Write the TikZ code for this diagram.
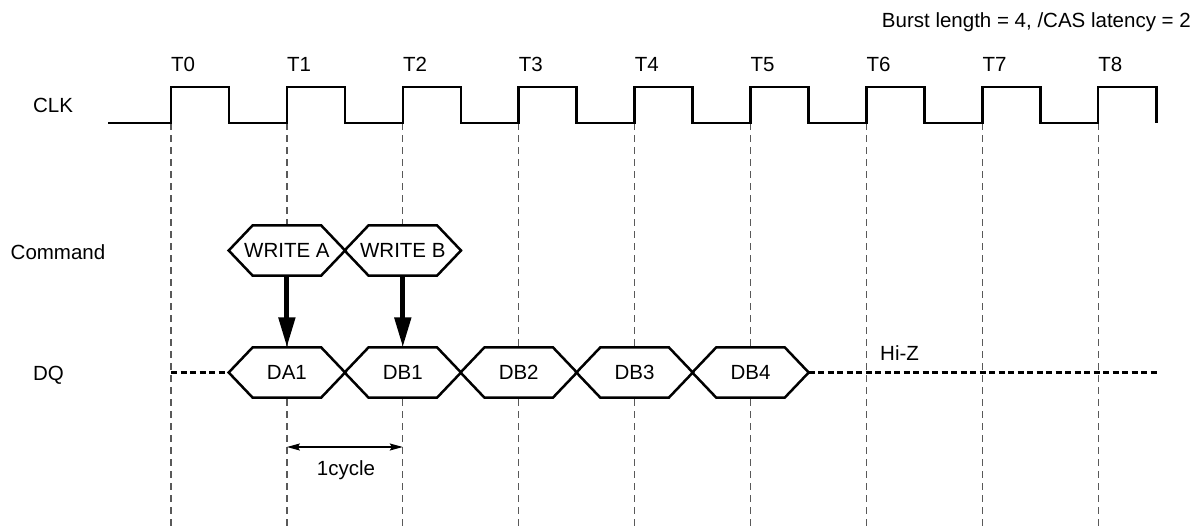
\documentclass[tikz,border=0pt]{standalone}
\usepackage{fontspec}
\setmainfont{Liberation Sans}
\usetikzlibrary{arrows.meta}
\begin{document}
\begin{tikzpicture}[x=1pt,y=-1pt,
  lbl/.style={inner sep=0pt, font=\fontsize{20.5}{24}\selectfont},
  hexbox/.style={lbl, minimum width=116pt, minimum height=50pt, fill=white},
  hexline/.style={line width=2.5pt, line join=miter},
  clk/.style={line width=2.5pt, line join=miter},
  gridline/.style={black!65, line width=1.3pt, dash pattern=on 7pt off 5pt},
  hiz/.style={line width=2.5pt, dash pattern=on 6pt off 3.5pt},
  cmdarrow/.style={line width=5pt, -{Triangle[length=30pt,width=16pt]}},
  dim/.style={line width=1.3pt, {Stealth[length=13pt,width=7pt,inset=2pt]}-{Stealth[length=13pt,width=7pt,inset=2pt]}}
]
\useasboundingbox (0,0) rectangle (1200,527);

% edges
\foreach \k in {0,...,8} {
  \coordinate (e\k) at ({171+115.9*\k},123);
  \coordinate (b\k) at ({171+115.9*\k},527);
  \draw[gridline] (e\k) -- (b\k);
  \node[lbl, anchor=base west] (t\k) at ({171+115.9*\k},72) {T\k};
}

% clock
\coordinate (clkstart) at (108,123);
\draw[clk] (clkstart)
  \foreach \k in {0,...,7} { -- (e\k) -- ++(0,-36) -- ++(57.95,0) -- ++(0,36) }
  -- (e8) -- ++(0,-36) -- ++(58.5,0) -- ++(0,36);

% row labels
\node[lbl, anchor=base] (lclk) at (53,112) {CLK};
\node[lbl, anchor=base] (lcmd) at (58,259) {Command};
\node[lbl, anchor=base] (ldq) at (48.5,380) {DQ};
\node[lbl, anchor=base east] (burst) at (1191,28) {Burst length = 4, /CAS latency = 2};

% command hexagons
\node[hexbox] (wa) at (286.9,250.5) {WRITE A};
\node[hexbox] (wb) at (402.8,250.5) {WRITE B};

% DQ hexagons
\node[hexbox] (da1) at (286.9,372.5) {DA1};
\node[hexbox] (db1) at (402.8,372.5) {DB1};
\node[hexbox] (db2) at (518.7,372.5) {DB2};
\node[hexbox] (db3) at (634.6,372.5) {DB3};
\node[hexbox] (db4) at (750.5,372.5) {DB4};

\foreach \n in {wa,wb,da1,db1,db2,db3,db4} {
  \draw[hexline] (\n.west) -- ([xshift=24pt]\n.north west) -- ([xshift=-24pt]\n.north east)
    -- (\n.east) -- ([xshift=-24pt]\n.south east) -- ([xshift=24pt]\n.south west) -- cycle;
}

% Hi-Z lines
\coordinate (dqstart) at (171,372.5);
\coordinate (dqend) at (1157,372.5);
\draw[hiz] (dqstart) -- (da1.west);
\draw[hiz] (db4.east) -- (dqend);
\node[lbl, anchor=base west] (hiz) at (880,360) {Hi-Z};

% command arrows
\draw[cmdarrow] (wa.south) -- (da1.north);
\draw[cmdarrow] (wb.south) -- (db1.north);

% 1 cycle
\coordinate (c1) at (286.9,447);
\coordinate (c2) at (402.8,447);
\draw[dim] (c1) -- (c2);
\node[lbl, anchor=base] (cyc) at (346,475.5) {1cycle};
\end{tikzpicture}
\end{document}
